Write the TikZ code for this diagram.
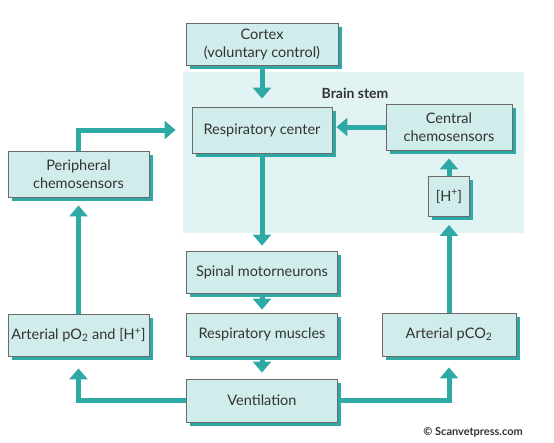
\documentclass[tikz,border=0pt]{standalone}
\usepackage{fontspec}
\setmainfont{Lato}
\usetikzlibrary{arrows.meta,shadows}
\definecolor{teal1}{HTML}{2FA9A5}
\definecolor{boxfill}{HTML}{D0ECEB}
\definecolor{stemfill}{HTML}{E1F4F3}
\definecolor{boxline}{HTML}{6A6A6A}
\definecolor{txt}{HTML}{333333}
\pgfdeclarelayer{bg}
\pgfdeclarelayer{arr}
\pgfsetlayers{bg,arr,main}
\begin{document}
\begin{tikzpicture}[x=1pt,y=-1pt,
  box/.style={draw=boxline, line width=0.8pt, fill=boxfill, text=txt, align=center,
    inner sep=0pt, font=\fontsize{14.5}{18}\selectfont,
    drop shadow={shadow xshift=3.5pt, shadow yshift=-3.5pt, fill=teal1, opacity=1}},
  flow/.style={draw=teal1, line width=5pt, line join=miter,
    -{Triangle[length=11pt,width=18pt]}}]
\useasboundingbox (0,0) rectangle (554,442);
\begin{pgfonlayer}{bg}
\fill[stemfill] (183,72) rectangle (524,233);
\end{pgfonlayer}
\node[font=\bfseries\fontsize{14}{16}\selectfont, text=txt] (stem) at (355,93) {Brain stem};
\node[box, minimum width=152pt, minimum height=42pt] (cortex) at (262,44) {Cortex\\(voluntary control)};
\node[box, minimum width=140pt, minimum height=46pt] (resp) at (262,130) {Respiratory center};
\node[box, minimum width=126pt, minimum height=46pt] (central) at (449,127) {Central\\chemosensors};
\node[box, minimum width=41pt, minimum height=40pt] (hplus) at (449,196.5) {[H\textsuperscript{+}]};
\node[box, minimum width=141pt, minimum height=46pt] (periph) at (78.5,174) {Peripheral\\chemosensors};
\node[box, minimum width=151pt, minimum height=42pt] (spinal) at (262,272) {Spinal motorneurons};
\node[box, minimum width=151pt, minimum height=43pt] (muscles) at (262,334.5) {Respiratory muscles};
\node[box, minimum width=151pt, minimum height=43pt] (vent) at (262,400.5) {Ventilation};
\node[box, minimum width=141pt, minimum height=42pt] (po2) at (78.5,335) {Arterial pO\textsubscript{2} and [H\textsuperscript{+}]};
\node[box, minimum width=134pt, minimum height=43pt] (pco2) at (449,334.5) {Arterial pCO\textsubscript{2}};
\node[anchor=east, font=\bfseries\fontsize{11}{13}\selectfont, text=txt, inner sep=0pt] (copy) at (523,432) {© Scanvetpress.com};
\begin{pgfonlayer}{arr}
\draw[flow, shorten >=8pt] (cortex.south) -- (resp.north);
\draw[flow, shorten >=4pt] (central.west) -- (resp.east |- central.west);
\draw[flow, shorten >=8pt] (hplus.north) -- (central.south);
\draw[flow, shorten >=8pt] (pco2.north) -- (hplus.south);
\draw[flow, shorten >=5pt] (resp.south) -- (spinal.north);
\draw[flow, shorten >=3pt] (spinal.south) -- (muscles.north);
\draw[flow, shorten >=6pt] (muscles.south) -- (vent.north);
\draw[flow, shorten >=12pt] (vent.west) -| (po2.south);
\draw[flow, shorten >=11pt] (vent.east) -| (pco2.south);
\draw[flow, shorten >=8pt] (po2.north) -- (periph.south);
\draw[flow, shorten >=16pt] (periph.north) |- (resp.west);
\end{pgfonlayer}
\end{tikzpicture}
\end{document}
